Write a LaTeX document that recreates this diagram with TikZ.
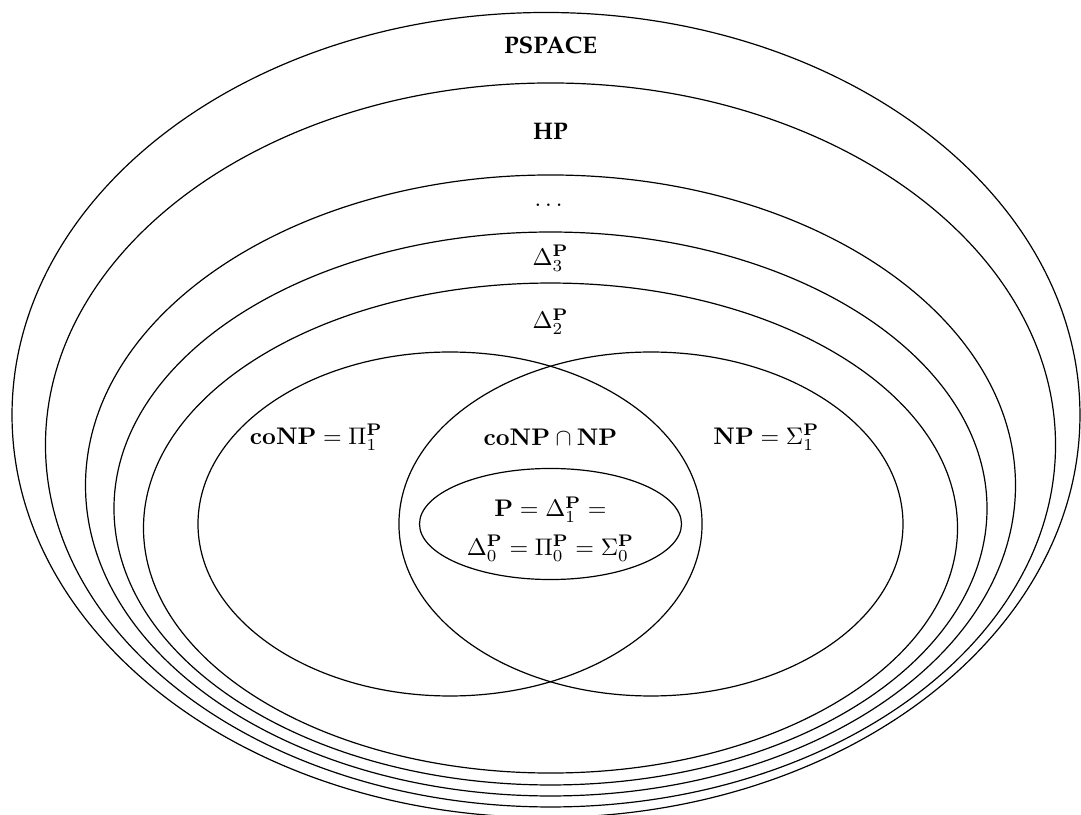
\documentclass[tikz,border=0pt]{standalone}
\usepackage{amsmath, amssymb}
\usepackage[T1]{fontenc}
\usepackage{palatino}
\usepackage{tikz}
\usetikzlibrary{calc}
\newcommand{\pP}{\mathbf{P}}

\begin{document}
\begin{tikzpicture}[line width=0.5pt]
\useasboundingbox (-8.06,-4.246) rectangle (7.767,7.672);
% Hierarchy, from the outside in
\draw (-0.066,1.596) ellipse (7.818 and 5.893);
\draw (0,1.157) ellipse (7.394 and 5.300);
\draw (0,0.564) ellipse (6.808 and 4.546);
\draw (0,0.227) ellipse (6.391 and 4.048);
\draw (0,-0.059) ellipse (5.959 and 3.587);
% coNP and NP
\draw (-1.471,0) ellipse (3.690 and 2.518);
\draw (1.471,0) ellipse (3.690 and 2.518);
% P
\draw (0,0) ellipse (1.918 and 0.813);
% Labels
\node (pspace) at (0,7.01) {\textbf{PSPACE}};
\node (hp) at (0,5.74) {\textbf{HP}};
\node (dots) at (0,4.67) {$\dots$};
\node (delta3) at (0,3.89) {$\Delta_3^{\pP}$};
\node (delta2) at (0,2.96) {$\Delta_2^{\pP}$};
\node (conp) at (-3.43,1.27) {$\mathbf{coNP} = \Pi_1^{\pP}$};
\node (cap) at (0,1.27) {$\mathbf{coNP} \cap \mathbf{NP}$};
\node (np) at (3.16,1.27) {$\mathbf{NP} = \Sigma_1^{\pP}$};
\node[align=center] (p) at (0,-0.07)
  {$\pP = \Delta_1^{\pP} =$ \\[4pt] $\Delta_0^{\pP} = \Pi_0^{\pP} = \Sigma_0^{\pP}$};
\end{tikzpicture}
\end{document}
